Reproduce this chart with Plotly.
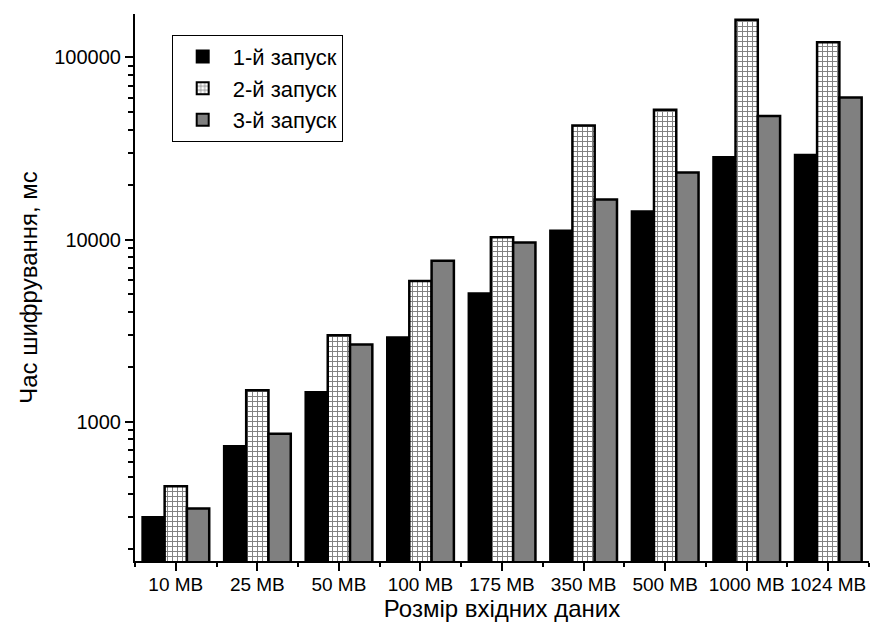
import plotly.graph_objects as go

categories = ["10 MB", "25 MB", "50 MB", "100 MB", "175 MB", "350 MB", "500 MB", "1000 MB", "1024 MB"]
run1 = [300, 735, 1456, 2910, 5080, 11200, 14300, 28400, 29200]
run2 = [443, 1487, 2985, 5930, 10300, 42300, 51600, 161000, 121000]
run3 = [334, 859, 2650, 7640, 9620, 16600, 23300, 47700, 60300]
series_names = ["1-й запуск", "2-й запуск", "3-й запуск"]
y_major = [1000, 10000, 100000]
y_minor = [m * 10 ** e for e in (2, 3, 4) for m in range(2, 10)]

xpos = list(range(len(categories)))
font = "Liberation Sans, Arial, sans-serif"

fig = go.Figure()
fig.add_trace(go.Bar(x=xpos, y=run1, name=series_names[0],
                     marker=dict(color="black", line=dict(color="black", width=2))))
fig.add_trace(go.Bar(x=xpos, y=run2, name=series_names[1],
                     marker=dict(color="white", line=dict(color="black", width=2.5),
                                 pattern=dict(shape="+", fgcolor="black", bgcolor="white",
                                              size=5, solidity=0.35, fillmode="overlay"))))
fig.add_trace(go.Bar(x=xpos, y=run3, name=series_names[2],
                     marker=dict(color="#808080", line=dict(color="black", width=2.5))))

fig.update_layout(
    width=870, height=637,
    margin=dict(l=135, r=1, t=14, b=76, autoexpand=False),
    plot_bgcolor="white", paper_bgcolor="white",
    barmode="group", bargap=0.18, bargroupgap=0,
    font=dict(family=font, color="black", size=19),
    legend=dict(x=0.05, y=0.962, xanchor="left", yanchor="top",
                bordercolor="black", borderwidth=1, bgcolor="white",
                font=dict(size=22), itemsizing="constant", itemwidth=50),
    showlegend=True,
)
fig.update_xaxes(
    range=[-0.5, len(categories) - 0.5], automargin=False,
    tickmode="array", tickvals=xpos, ticktext=categories,
    ticks="outside", ticklen=8, tickwidth=2, tickcolor="black",
    showline=True, linecolor="black", linewidth=2, showgrid=False, zeroline=False,
    minor=dict(tickmode="array", tickvals=[i - 0.5 for i in range(len(categories) + 1)],
               ticks="outside", ticklen=4, tickwidth=2, tickcolor="black", showgrid=False),
    title=dict(text="Розмір вхідних даних", font=dict(size=24), standoff=2),
    tickfont=dict(size=19), ticklabelstandoff=-3,
)
fig.update_yaxes(
    type="log", range=[2.2355, 5.238], automargin=False,
    tickmode="array", tickvals=y_major, ticktext=[str(v) for v in y_major],
    ticks="outside", ticklen=8, tickwidth=2, tickcolor="black",
    showline=True, linecolor="black", linewidth=2, showgrid=False, zeroline=False,
    minor=dict(tickmode="array", tickvals=y_minor,
               ticks="outside", ticklen=5, tickwidth=2, tickcolor="black", showgrid=False),
    title=dict(text="Час шифрування, мс", font=dict(size=24), standoff=10),
    tickfont=dict(size=20),
)

fig.write_html("out.html", config={"displayModeBar": False},
               post_script="document.body.style.margin='0';document.body.style.padding='0';")
